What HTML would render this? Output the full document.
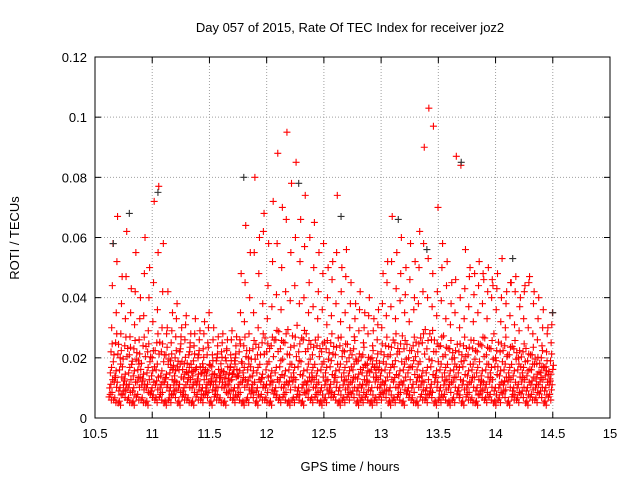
<!DOCTYPE html>
<html><head><meta charset="utf-8">
<style>
body{margin:0;background:#fff;}
svg{display:block;font-family:"Liberation Sans",sans-serif;}
</style></head>
<body>
<svg id="chart" width="640" height="480" viewBox="0 0 640 480">
<rect x="0" y="0" width="640" height="480" fill="#fff"/>
<text x="350" y="32" font-size="13" text-anchor="middle" fill="#000">Day 057 of 2015, Rate Of TEC Index for receiver joz2</text>
<text x="350" y="471" font-size="13" text-anchor="middle" fill="#000">GPS time / hours</text>
<text transform="translate(19,238) rotate(-90)" font-size="13" text-anchor="middle" fill="#000">ROTI / TECUs</text>
<g id="grid"></g>
<g id="ticks"></g>
<g id="marks"></g>
<rect x="95" y="57" width="515" height="361" fill="none" stroke="#000" stroke-width="1"/>
</svg>
<script>
const xTicks = [10.5, 11, 11.5, 12, 12.5, 13, 13.5, 14, 14.5, 15];
const xTickLabels = ["10.5","11","11.5","12","12.5","13","13.5","14","14.5","15"];
const yTicks = [0, 0.02, 0.04, 0.06, 0.08, 0.1, 0.12];
const yTickLabels = ["0","0.02","0.04","0.06","0.08","0.1","0.12"];
const startTime = 10.64;
const binWidth = 0.04;
// ROTI values in units of 0.001 TECU/min, one per time bin
const s1 = [7,6,5,8,6,5,7,6,5,8, 6,7,5,6,8,5,7,6,5,7, 6,8,5,7,6,5,8,6,7,5, 6,8,5,7,6,5,8,6,7,5, 6,7,5,8,6,7,5,6,8,7, 5,6,7,8,5,6,7,5,6,7, 8,5,6,7,5,8,6,5,7,6, 8,5,6,7,5,6,8,5,7,6, 5,8,6,7,5,6,8,5,7,6, 8,5,7,6,8,5,7];
const s2 = [10,12,9,11,10,9,12,11,10,9, 11,10,12,9,11,10,9,12,10,11, 9,10,11,9,12,10,11,9,10,12, 11,10,9,12,10,11,9,12,10,11, 12,9,10,11,12,10,9,11,10,12, 9,11,10,12,9,10,11,9,12,10, 11,9,12,10,11,9,10,12,11,9, 10,12,9,11,10,12,9,11,10,12, 9,11,10,12,9,10,11,12,9,10, 12,9,11,10,12,9,11];
const s3 = [15,14,16,13,15,14,16,13,15,14, 16,14,13,15,14,16,13,15,14,13, 15,14,13,12,14,13,15,16,14,15, 16,14,15,13,16,14,15,17,14,16, 15,17,14,16,15,14,16,15,17,14, 16,15,14,16,13,15,14,16,15,14, 16,15,17,14,16,15,17,16,14,15, 17,14,16,15,14,16,15,17,14,16, 15,14,16,15,17,14,16,15,14,16, 15,14,16,13,15,14,13];
const s4 = [22,25,20,24,21,23,19,24,22,20, 25,22,21,19,20,22,18,21,19,20, 18,21,17,19,18,20,17,19,22,24, 20,23,21,25,22,24,26,23,25,21, 24,22,26,23,21,24,22,23,25,21, 24,22,20,23,19,21,18,20,19,22, 24,21,25,22,23,20,24,22,25,23, 26,22,24,21,23,20,22,24,21,23, 22,24,21,23,20,22,24,21,23,20, 22,19,21,18,20,17,19];
const s5 = [30,35,28,33,27,31,26,34,29,32, 36,30,28,25,27,23,26,22,24,21, 23,25,21,20,22,19,21,20,26,32, 28,35,30,38,33,37,41,36,42,39, 44,38,40,35,37,33,36,31,34,38, 32,35,30,27,29,25,28,24,26,30, 34,37,33,39,35,32,36,38,42,40, 37,34,39,33,31,35,30,33,37,32, 35,38,33,40,36,32,30,34,31,29, 33,30,28,26,24,22,25];
const s6 = [44,52,38,47,35,42,33,48,40,45, 55,42,30,29,33,27,31,25,28,26, 28,30,26,24,25,23,26,24,35,45, 40,55,48,62,44,52,58,50,66,55, 60,52,57,45,50,42,48,40,46,55, 42,47,38,33,36,30,34,29,31,38, 45,52,43,48,41,46,40,50,58,53, 48,42,50,44,38,46,40,43,47,41, 44,48,42,46,43,40,38,45,42,37, 42,45,38,33,30,28,31];
const s7 = [58,67,47,62,43,55,40,60,50,72, 77,58,42,35,38,30,34,28,33,29, 32,35,30,27,28,26,29,27,48,64, 55,80,60,68,58,72,88,70,95,78, 85,66,74,60,65,55,58,50,52,74, 50,56,45,38,42,35,40,33,36,48, 52,67,55,60,50,58,52,62,90,103, 97,70,58,52,45,87,84,56,50,48, 52,46,50,44,48,53,42,45,47,40, 44,47,42,40,36,30,35];
const darkTimes = [10.66,10.8,11.05,11.8,12.28,12.65,13.15,13.4,13.7,14.15,14.5];
const darkValues = [0.058,0.068,0.075,0.08,0.078,0.067,0.066,0.056,0.085,0.053,0.035];

const X0=95, X1=610, Y0=418, Y1=57;
function xs(t){return X0+(t-10.5)/(15-10.5)*(X1-X0);}
function ys(v){return Y0-(v/0.12)*(Y0-Y1);}
const NS="http://www.w3.org/2000/svg";
const grid=document.getElementById('grid'), ticks=document.getElementById('ticks'), marks=document.getElementById('marks');
function mk(tag,attrs,parent){const e=document.createElementNS(NS,tag);for(const k in attrs)e.setAttribute(k,attrs[k]);parent.appendChild(e);return e;}
xTicks.forEach((t,i)=>{
  const x=xs(t);
  if(i>0&&i<xTicks.length-1){const g=mk('line',{x1:x,y1:Y1,x2:x,y2:Y0,stroke:'#a0a0a0','stroke-dasharray':'1,2'},grid);
  
  }
  mk('line',{x1:x,y1:Y0,x2:x,y2:Y0-6,stroke:'#000'},ticks);
  mk('line',{x1:x,y1:Y1,x2:x,y2:Y1+6,stroke:'#000'},ticks);
  const tx=mk('text',{x:x,y:Y0+20,'font-size':13,'text-anchor':'middle'},ticks);
  tx.textContent=xTickLabels[i];
  
  
});
yTicks.forEach((v,i)=>{
  const y=ys(v);
  if(i>0&&i<yTicks.length-1){const g=mk('line',{x1:X0,y1:y,x2:X1,y2:y,stroke:'#a0a0a0','stroke-dasharray':'1,2'},grid);
  
  }
  mk('line',{x1:X0,y1:y,x2:X0+6,y2:y,stroke:'#000'},ticks);
  mk('line',{x1:X1,y1:y,x2:X1-6,y2:y,stroke:'#000'},ticks);
  const tx=mk('text',{x:X0-8,y:y+5,'font-size':13,'text-anchor':'end'},ticks);
  tx.textContent=yTickLabels[i];
  
  
});
function plus(t,v,color){
  const x=xs(t), y=ys(v);
  const p=mk('path',{d:`M${x-3.5},${y}h7M${x},${y-3.5}v7`,stroke:color,'stroke-width':1.1,fill:'none'},marks);
  
  
}
const allSeries=[s1,s2,s3,s4,s5,s6,s7];
allSeries.forEach((s,k)=>{
  s.forEach((v,i)=>{
    const t=startTime+i*binWidth+(k-3)*0.0057;
    plus(t,v*0.001,'#ff0000');
    if(k<4){
      plus(t+binWidth/2,v*0.001*0.85,'#ff0000');
      plus(t+binWidth/4,v*0.001*1.12,'#ff0000');
    } else if(k===4){
      plus(t+binWidth/2,v*0.001*0.7,'#ff0000');
    }
  });
});
darkTimes.forEach((t,i)=>plus(t,darkValues[i],'#303030'));
</script>
</body></html>
